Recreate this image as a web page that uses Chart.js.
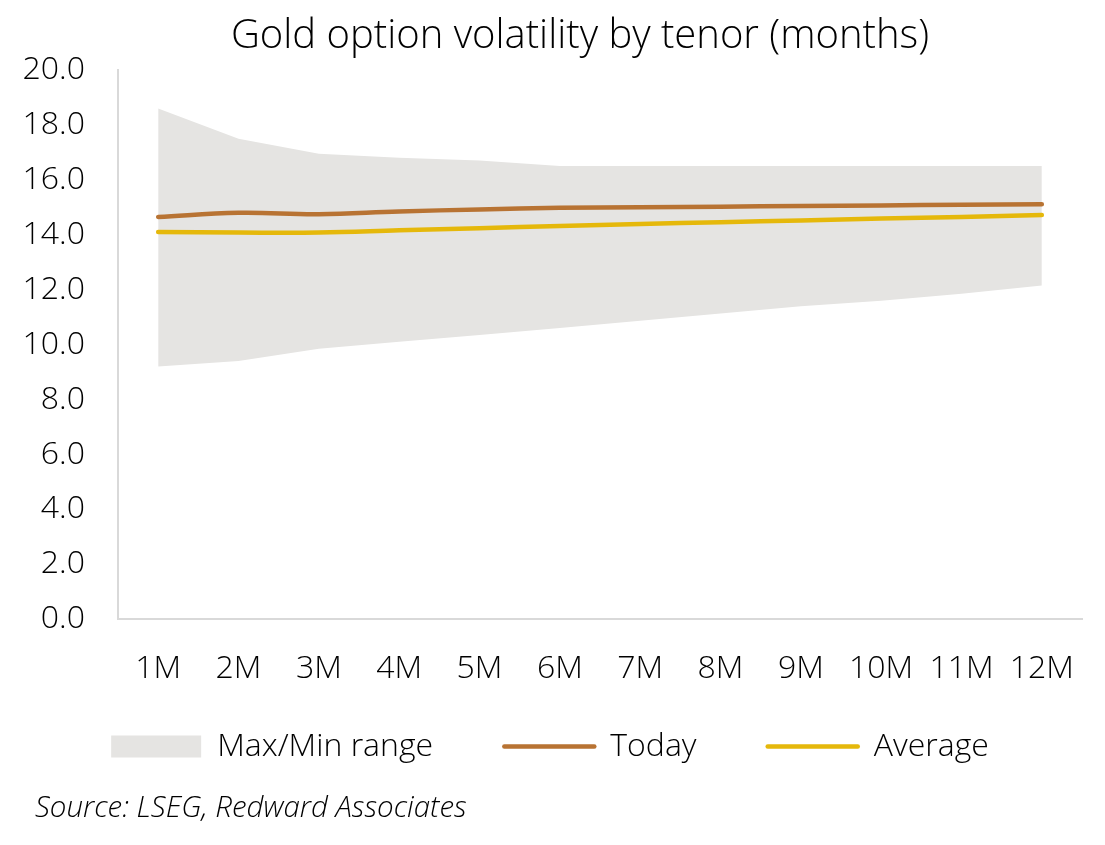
<!DOCTYPE html>
<html>
<head>
<meta charset="utf-8">
<script src="https://cdn.jsdelivr.net/npm/chart.js"></script>
<style>
  html, body { margin: 0; padding: 0; background: #fff; }
  #wrap { width: 1105px; height: 845px; position: relative; }
</style>
</head>
<body>
<div id="wrap"><canvas id="myChart"></canvas></div>
<script>
// データ
const tenors = ["1M", "2M", "3M", "4M", "5M", "6M", "7M", "8M", "9M", "10M", "11M", "12M"];
const maxVol = [18.6, 17.5, 16.95, 16.8, 16.7, 16.5, 16.5, 16.5, 16.5, 16.5, 16.5, 16.5];
const minVol = [9.2, 9.4, 9.85, 10.1, 10.35, 10.6, 10.87, 11.13, 11.4, 11.6, 11.85, 12.15];
const today = [14.65, 14.8, 14.75, 14.85, 14.92, 14.98, 15.0, 15.02, 15.05, 15.07, 15.09, 15.11];
const average = [14.1, 14.08, 14.08, 14.16, 14.24, 14.32, 14.39, 14.46, 14.52, 14.59, 14.65, 14.72];

const BAND = "#E5E4E2";
const TODAY = "#B87333";
const AVG = "#E5B80B";
const AXIS = "#D9D9D9";
const FONT = "'Open Sans', sans-serif";
const GAP = "       "; // 凡例の項目間スペース
const SOURCE = "Source: LSEG, Redward Associates";

// タイトルとソース表記の位置を微調整
const shiftBlocks = {
    id: "shiftBlocks",
    afterLayout(chart) {
        chart.titleBlock.left = chart.chartArea.left - 40;
        const src = chart.boxes.find((b) => b.options && b.options.text === SOURCE);
        if (src) src.left += 17;
    },
};

const ctx = document.getElementById("myChart").getContext("2d");
new Chart(ctx, {
    type: "line",
    data: {
        labels: tenors,
        datasets: [
            { label: "Today", data: today, borderColor: TODAY, borderWidth: 4.5, tension: 0.4,
              pointRadius: 0, borderCapStyle: "round", fill: false, order: 0 },
            { label: "Average", data: average, borderColor: AVG, borderWidth: 4.5, tension: 0.4,
              pointRadius: 0, borderCapStyle: "round", fill: false, order: 1 },
            { label: "Max/Min range", data: maxVol, borderWidth: 0, pointRadius: 0,
              backgroundColor: BAND, borderColor: BAND, fill: "+1", order: 2 },
            { label: "min", data: minVol, borderWidth: 0, pointRadius: 0,
              backgroundColor: BAND, borderColor: BAND, fill: false, order: 3 },
        ],
    },
    plugins: [shiftBlocks],
    options: {
        responsive: true,
        maintainAspectRatio: false,
        animation: false,
        layout: { padding: { left: 18, right: 23, top: 10, bottom: 4 } },
        plugins: {
            title: {
                display: true,
                text: "Gold option volatility by tenor (months)",
                color: "#000",
                font: { family: FONT, size: 40, weight: 300 },
                padding: { top: 3, bottom: 9 },
            },
            subtitle: {
                display: true,
                position: "bottom",
                align: "start",
                text: SOURCE,
                color: "#000",
                font: { family: FONT, size: 29.5, style: "italic", weight: 300 },
                padding: { top: 18, bottom: 15 },
            },
            legend: {
                position: "bottom",
                labels: {
                    usePointStyle: true,
                    pointStyleWidth: 90,
                    boxHeight: 22,
                    padding: 13,
                    color: "#000",
                    font: { family: FONT, size: 32, weight: 300 },
                    generateLabels: () => [
                        { text: "Max/Min range" + GAP, fillStyle: BAND, strokeStyle: BAND, lineWidth: 0,
                          pointStyle: "rect", hidden: false, datasetIndex: 2 },
                        { text: "Today" + GAP, fillStyle: TODAY, strokeStyle: TODAY, lineWidth: 4.5,
                          lineCap: "round", pointStyle: "line", hidden: false, datasetIndex: 0 },
                        { text: "Average", fillStyle: AVG, strokeStyle: AVG, lineWidth: 4.5,
                          lineCap: "round", pointStyle: "line", hidden: false, datasetIndex: 1 },
                    ],
                },
                onClick: null,
            },
            tooltip: { enabled: false },
        },
        scales: {
            x: {
                offset: true,
                grid: { display: false, drawTicks: false },
                border: { display: true, color: AXIS, width: 2 },
                ticks: { color: "#000", padding: 30, font: { family: FONT, size: 32, weight: 300 } },
            },
            y: {
                min: 0,
                max: 20,
                grid: { display: false, drawTicks: false },
                border: { display: true, color: AXIS, width: 2 },
                ticks: {
                    stepSize: 2,
                    color: "#000",
                    padding: 33,
                    font: { family: FONT, size: 32, weight: 300 },
                    callback: (v) => v.toFixed(1),
                },
                afterFit: (scale) => { scale.width = 100; },
            },
        },
    },
});
</script>
</body>
</html>
